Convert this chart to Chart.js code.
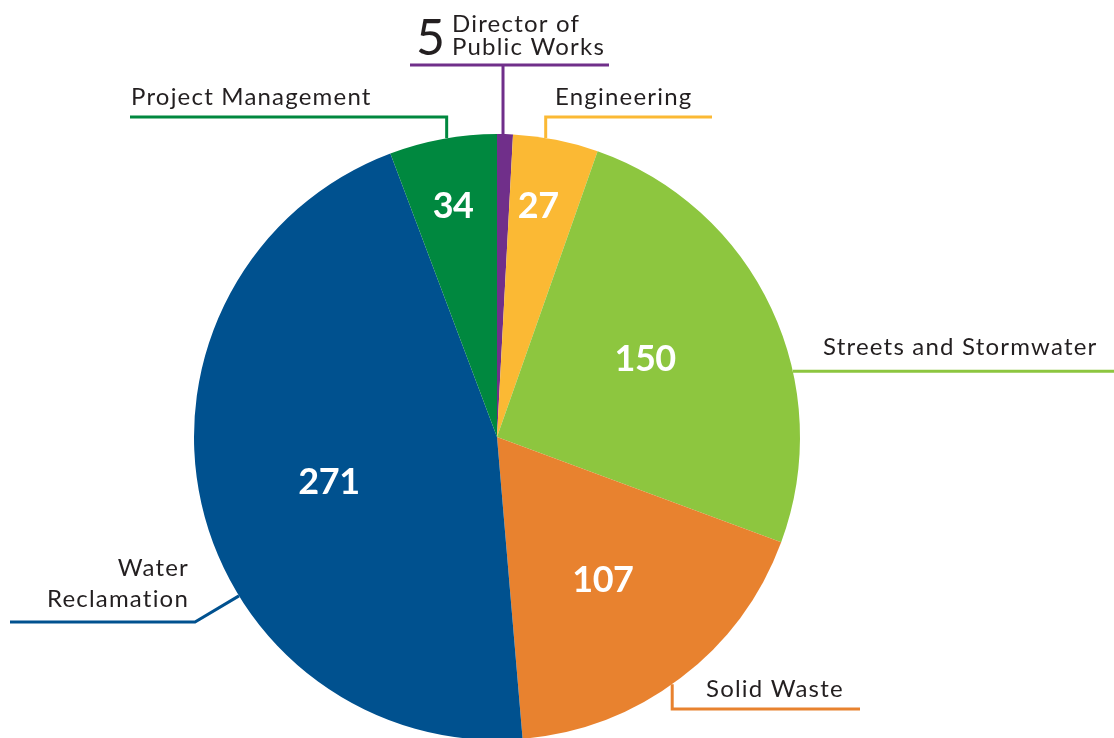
<!DOCTYPE html>
<html><head><meta charset="utf-8">
<script src="https://cdn.jsdelivr.net/npm/chart.js@4/dist/chart.umd.min.js"></script>
<style>
html,body{margin:0;padding:0;background:#fff;overflow:hidden;}
#wrap{position:relative;width:1114px;height:750px;}
</style></head>
<body><div id="wrap"><canvas id="c"></canvas></div>
<script>
const categories = ["Director of Public Works","Engineering","Streets and Stormwater","Solid Waste","Water Reclamation","Project Management"];
const values = [5, 27, 150, 107, 271, 34];
const colors = ["#702f8a","#fbb934","#8dc63f","#e8822f","#00518f","#00883f"];

// value label placement: [fraction within slice angle, fraction of radius]
const valueLabelPos = [null, [0.43,0.778], [0.468,0.554], [0.509,0.585], [0.489,0.573], [0.48,0.779]];

// leader-line / label layout: anchor angle is a fraction within the slice
const callouts = [
  {i:0, frac:0.375, path:[[null,65]], hline:[410,609,65],
   lines:["Director of","Public Works"], tx:452, ty:[32,55], align:"left", big:"5", bx:416, by:55},
  {i:1, frac:0.38, path:[[null,117],[712,117]], lines:["Engineering"], tx:555, ty:[105], align:"left"},
  {i:2, frac:0.639, path:[[1114,null]], lines:["Streets and Stormwater"], tx:823, ty:[355], align:"left"},
  {i:3, frac:0.53, path:[[null,709],[860,709]], lines:["Solid Waste"], tx:706, ty:[697], align:"left"},
  {i:4, frac:0.385, path:[[195,622],[10,622]], lines:["Water","Reclamation"], tx:189, ty:[576,607], align:"right"},
  {i:5, frac:0.536, path:[[null,117],[130,117]], lines:["Project Management"], tx:131, ty:[105], align:"left"}
];

const calloutPlugin = {
  id:'callouts',
  afterDatasetsDraw(chart){
    const ctx = chart.ctx;
    const meta = chart.getDatasetMeta(0);
    ctx.save();
    // value labels
    ctx.fillStyle = "#fff";
    const fs = 36;
    ctx.font = "bold " + fs + "px Lato";
    ctx.letterSpacing = "-0.5px";
    ctx.textAlign = "center"; ctx.textBaseline = "alphabetic";
    meta.data.forEach((arc, k) => {
      const lp = valueLabelPos[k];
      if (!lp) return;
      const p = arc.getProps(['x','y','startAngle','endAngle','outerRadius'], true);
      const a = p.startAngle + (p.endAngle - p.startAngle)*lp[0];
      const r = p.outerRadius * lp[1];
      ctx.fillText(String(values[k]), p.x + r*Math.cos(a), p.y + r*Math.sin(a) + fs*0.36);
    });
    // callouts
    callouts.forEach(c => {
      const arc = meta.data[c.i];
      const p = arc.getProps(['x','y','startAngle','endAngle','outerRadius'], true);
      const a = p.startAngle + (p.endAngle - p.startAngle)*c.frac;
      const ax = p.x + p.outerRadius*Math.cos(a), ay = p.y + p.outerRadius*Math.sin(a);
      ctx.strokeStyle = colors[c.i]; ctx.lineWidth = 3; ctx.lineJoin = "miter"; ctx.lineCap = "butt";
      ctx.beginPath(); ctx.moveTo(ax, ay);
      c.path.forEach(([x,y]) => ctx.lineTo(x===null?ax:x, y===null?ay:y));
      ctx.stroke();
      if (c.hline){ ctx.beginPath(); ctx.moveTo(c.hline[0],c.hline[2]); ctx.lineTo(c.hline[1],c.hline[2]); ctx.stroke(); }
      ctx.fillStyle = "#231f20";
      ctx.font = "24px Lato";
      ctx.letterSpacing = "1.2px";
      ctx.textAlign = c.align; ctx.textBaseline = "alphabetic";
      c.lines.forEach((t, j) => ctx.fillText(t, c.tx, c.ty[j]));
      if (c.big){ ctx.font = "50px Lato"; ctx.letterSpacing = "0px"; ctx.textAlign="left"; ctx.fillText(c.big, c.bx, c.by); }
    });
    ctx.restore();
  }
};

new Chart(document.getElementById('c'), {
  type:'pie',
  data:{labels:categories, datasets:[{data:values, backgroundColor:colors, borderWidth:0}]},
  options:{
    responsive:true, maintainAspectRatio:false, animation:false,
    layout:{padding:{left:194, right:314, top:134, bottom:10}},
    plugins:{legend:{display:false}, tooltip:{enabled:false}}
  },
  plugins:[calloutPlugin]
});
</script></body></html>
